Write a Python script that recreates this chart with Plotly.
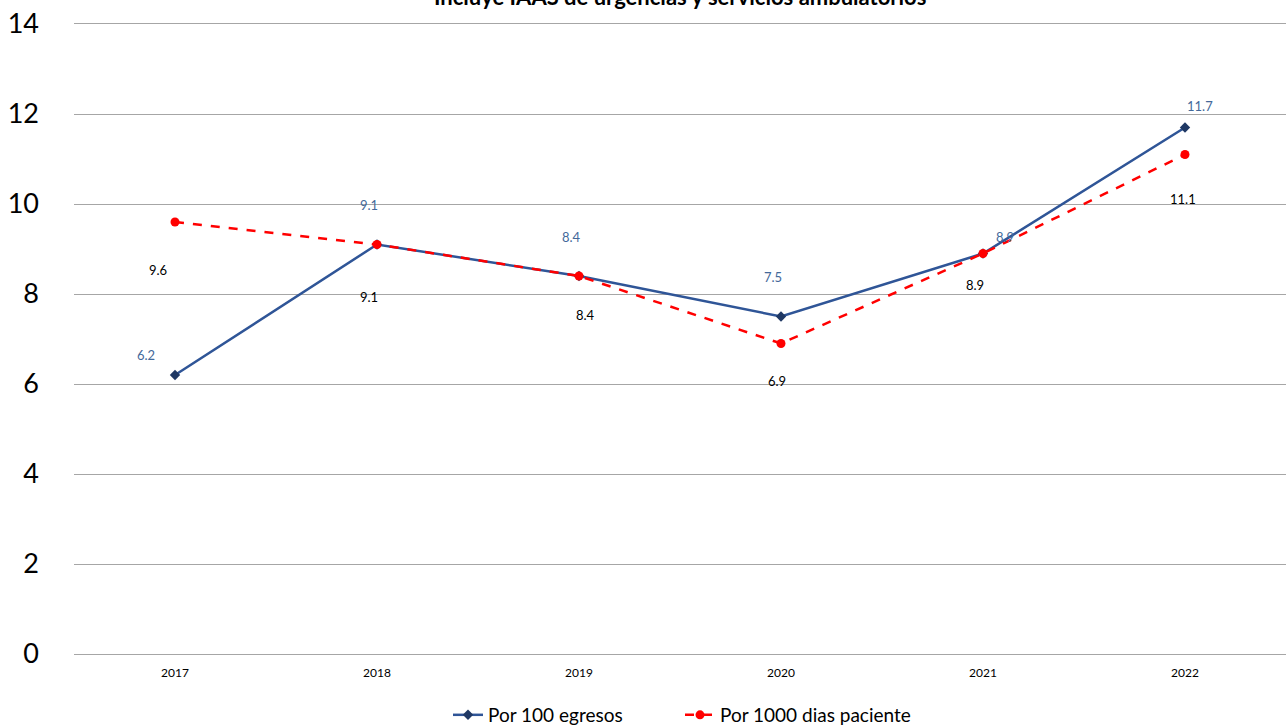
import plotly.graph_objects as go

years = ["2017", "2018", "2019", "2020", "2021", "2022"]
por_100_egresos = [6.2, 9.1, 8.4, 7.5, 8.9, 11.7]
por_1000_dias = [9.6, 9.1, 8.4, 6.9, 8.9, 11.1]
y_ticks = [0, 2, 4, 6, 8, 10, 12, 14]

# pixel offsets of each data label relative to its point
blue_label_shift = [(-29, 20), (-8, 40), (-8, 39), (-8, 40), (22, 17), (15, 22)]
red_label_shift = [(-17, -48), (-8, -52), (6, -39), (-4, -37), (-8, -31), (-2, -44)]

FONT = "Lato, Open Sans, sans-serif"
BLUE = "#2F5597"
BLUE_MARK = "#1F3864"
BLUE_TXT = "#44699A"
RED = "#FF0000"
GRID = "#A6A6A6"

fig = go.Figure()
fig.add_trace(go.Scatter(
    x=years, y=por_100_egresos, name="Por 100 egresos",
    mode="lines+markers",
    line=dict(color=BLUE, width=2.5),
    marker=dict(symbol="diamond", size=8, color=BLUE_MARK),
))
fig.add_trace(go.Scatter(
    x=years, y=por_1000_dias, name="Por 1000 dias paciente",
    mode="lines+markers",
    line=dict(color=RED, width=2.5, dash="dash"),
    marker=dict(symbol="circle", size=9, color=RED),
))

# data labels, placed by category index on the category axis
for i, (v, (dx, dy)) in enumerate(zip(por_100_egresos, blue_label_shift)):
    fig.add_annotation(x=i, y=v, text=f"{v:.1f}", showarrow=False,
                       xshift=dx, yshift=dy,
                       font=dict(family=FONT, size=13, color=BLUE_TXT))
for i, (v, (dx, dy)) in enumerate(zip(por_1000_dias, red_label_shift)):
    fig.add_annotation(x=i, y=v, text=f"{v:.1f}", showarrow=False,
                       xshift=dx, yshift=dy,
                       font=dict(family=FONT, size=13, color="#000000"))

fig.add_annotation(xref="paper", yref="paper", x=0.5, y=1.0444,
                   yanchor="middle", showarrow=False,
                   text="<b>Incluye IAAS de urgencias y servicios ambulatorios</b>",
                   font=dict(family=FONT, size=22, color="#000000"))

fig.update_layout(
    width=1288, height=726,
    margin=dict(l=74, r=2, t=24, b=72, autoexpand=False),
    paper_bgcolor="white", plot_bgcolor="white",
    font=dict(family=FONT, color="#000000"),
    showlegend=True,
    legend=dict(orientation="h", x=0.5, xanchor="center",
                yref="container", y=0.0152, yanchor="middle",
                font=dict(family=FONT, size=19), entrywidth=187),
    xaxis=dict(type="category", range=[-0.5, 5.5], showgrid=False,
               showline=True, linecolor=GRID, linewidth=1, mirror=True,
               zeroline=False, ticks="",
               tickfont=dict(family=FONT, size=12),
               ticklabelstandoff=8),
    yaxis=dict(range=[0, 14], tickvals=y_ticks, showgrid=True,
               gridcolor=GRID, gridwidth=1, zeroline=False,
               showline=False, ticks="",
               tickfont=dict(family=FONT, size=27),
               ticklabelstandoff=34),
)

fig.write_html("out.html")
